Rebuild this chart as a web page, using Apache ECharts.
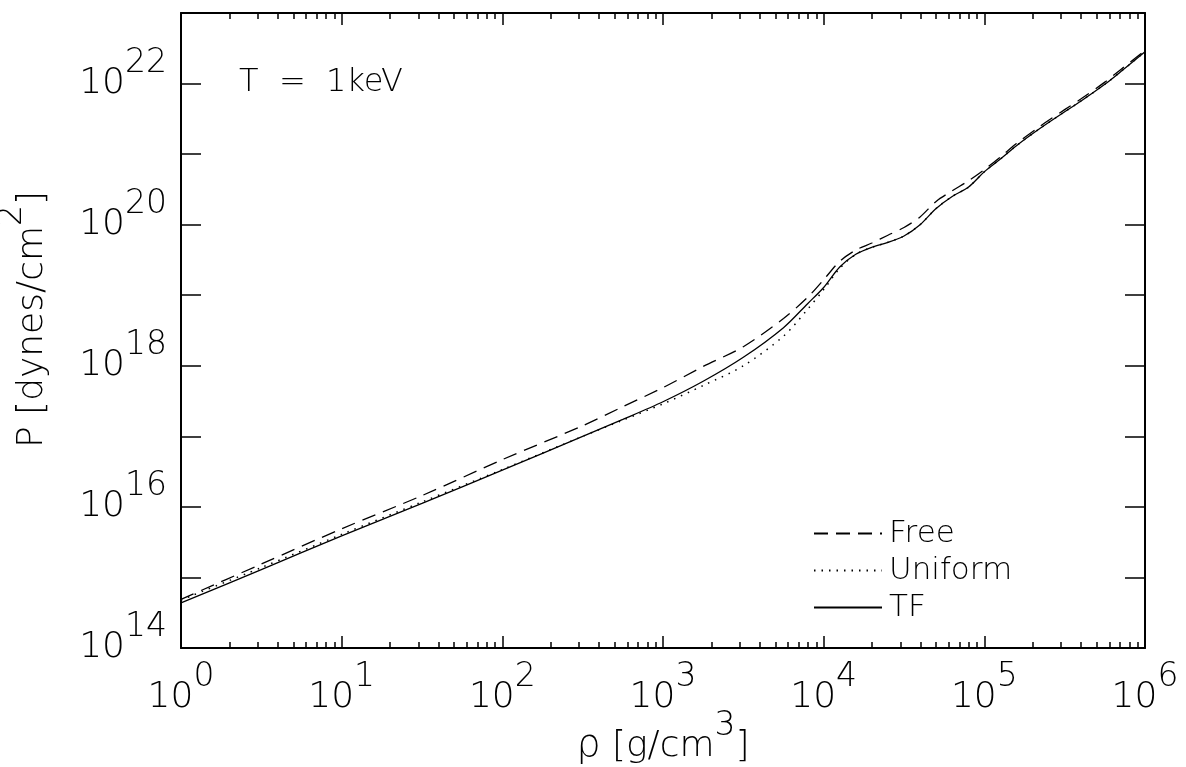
<!DOCTYPE html>
<html><head><meta charset="utf-8">
<script src="https://cdn.jsdelivr.net/npm/echarts@6/dist/echarts.min.js"></script>
<style>html,body{margin:0;padding:0;background:#fff}#c{width:1186px;height:767px}</style>
</head><body><div id="c"></div>
<script>
// log10(rho [g/cm^3])
const logRho = [0,0.5,1,1.5,2,2.5,2.75,3,3.25,3.5,3.75,3.9,4,4.1,4.2,4.3,4.4,4.5,4.6,4.7,4.8,4.9,5,5.1,5.2,5.35,5.5,5.6,5.75,5.85,6];
// log10(P [dynes/cm^2])
const logP_free    = [14.69,15.19,15.69,16.16,16.67,17.15,17.42,17.69,17.99,18.27,18.67,18.97,19.22,19.48,19.64,19.74,19.85,19.96,20.11,20.33,20.48,20.62,20.78,20.96,21.15,21.40,21.63,21.78,22.02,22.20,22.47];
const logP_uniform = [14.68,15.14,15.61,16.07,16.53,17.00,17.23,17.46,17.72,18.00,18.42,18.80,19.08,19.38,19.58,19.68,19.75,19.84,20.00,20.23,20.40,20.53,20.75,20.93,21.12,21.37,21.60,21.75,21.99,22.17,22.45];
const logP_tf      = [14.64,15.11,15.59,16.05,16.52,17.00,17.24,17.49,17.78,18.12,18.54,18.88,19.11,19.40,19.58,19.68,19.75,19.84,20.00,20.23,20.40,20.53,20.75,20.93,21.12,21.37,21.60,21.75,21.99,22.17,22.45];
const seriesNames = ['Free','Uniform','TF'];
const xRange = [1, 1e6];
const yRange = [1e14, 1e23];
const yLabelExps = [14,16,18,20,22];

const FONT = 'DejaVu Sans';
const FW = 200;
const pts = arr => logRho.map((lx,i) => [Math.pow(10,lx), Math.pow(10,arr[i])]);
const expOf = v => Math.round(Math.log10(v));
const richNum = {
  b: {fontSize: 36, lineHeight: 36, fontFamily: FONT, fontWeight: FW, color: '#000', verticalAlign: 'bottom'},
  s: {fontSize: 33, lineHeight: 33, fontFamily: FONT, fontWeight: FW, color: '#000', verticalAlign: 'bottom', padding: [0,0,22,0]}
};
const axisLineStyle = {color: '#000', width: 2};

const xCommon = {
  type: 'log', logBase: 10, min: xRange[0], max: xRange[1], interval: 1,
  axisLine: {show: true, lineStyle: axisLineStyle},
  splitLine: {show: false},
  axisTick: {show: true, inside: true, length: 12, lineStyle: {color: '#000', width: 1.5}},
  minorTick: {show: true, splitNumber: 9, length: 6, lineStyle: {color: '#000', width: 1.5}},
  minorSplitLine: {show: false}
};
const yCommon = {
  type: 'log', logBase: 10, min: yRange[0], max: yRange[1], interval: 1,
  axisLine: {show: true, lineStyle: axisLineStyle},
  splitLine: {show: false},
  axisTick: {show: true, inside: true, length: 20, lineStyle: {color: '#000', width: 1.5}},
  minorTick: {show: false}
};

const chart = echarts.init(document.getElementById('c'), null, {renderer: 'canvas'});
chart.setOption({
  backgroundColor: '#fff',
  animation: false,
  title: {
    text: 'T  =  1keV', left: 234, top: 62,
    textStyle: {fontSize: 32, fontFamily: FONT, fontWeight: FW, color: '#000'}
  },
  legend: {
    orient: 'vertical', left: 808, top: 513, itemWidth: 68, itemHeight: 14, itemGap: 6,
    data: seriesNames,
    itemStyle: {opacity: 0, borderWidth: 0},
    textStyle: {fontSize: 31, lineHeight: 31, fontFamily: FONT, fontWeight: FW, color: '#000', padding: [0,0,0,2]}
  },
  grid: {left: 181, right: 41, top: 13, bottom: 119, containLabel: false, outerBoundsMode: 'none'},
  xAxis: [
    Object.assign({}, xCommon, {
      position: 'bottom',
      name: '{i|ρ}{b| [g/cm}{s|3}{b|]}', nameLocation: 'middle', nameGap: 81, nameMoveOverlap: false,
      nameTextStyle: {rich: Object.assign({}, richNum, {i: {fontSize: 38, lineHeight: 36, fontFamily: FONT, fontWeight: FW, color: '#000', verticalAlign: 'bottom'}})},
      axisLabel: {show: true, margin: 32, formatter: v => '{b|10}{s|' + expOf(v) + '}', rich: richNum}
    }),
    Object.assign({}, xCommon, {position: 'top', axisLabel: {show: false}})
  ],
  yAxis: [
    Object.assign({}, yCommon, {
      position: 'left',
      name: '{b|P [dynes/cm}{s|2}{b|]}', nameLocation: 'middle', nameRotate: 90, nameGap: 130, nameMoveOverlap: false,
      nameTextStyle: {rich: richNum, padding: [0,0,0,22]},
      axisLabel: {show: true, margin: 14,
        formatter: v => { const e = expOf(v); return yLabelExps.indexOf(e) >= 0 ? '{b|10}{s|' + e + '}' : ''; },
        rich: richNum}
    }),
    Object.assign({}, yCommon, {position: 'right', axisLabel: {show: false}})
  ],
  series: [
    {name: seriesNames[0], type: 'line', data: pts(logP_free), showSymbol: false, symbol: 'none', smooth: 0.3,
     lineStyle: {color: '#000', width: 1.3, type: [14, 8]}, itemStyle: {color: '#000'}},
    {name: seriesNames[1], type: 'line', data: pts(logP_uniform), showSymbol: false, symbol: 'none', smooth: 0.3,
     lineStyle: {color: '#000', width: 1.5, type: [1.5, 6]}, itemStyle: {color: '#000'}},
    {name: seriesNames[2], type: 'line', data: pts(logP_tf), showSymbol: false, symbol: 'none', smooth: 0.3,
     lineStyle: {color: '#000', width: 1.3, type: 'solid'}, itemStyle: {color: '#000'}}
  ]
});
</script>
</body></html>
